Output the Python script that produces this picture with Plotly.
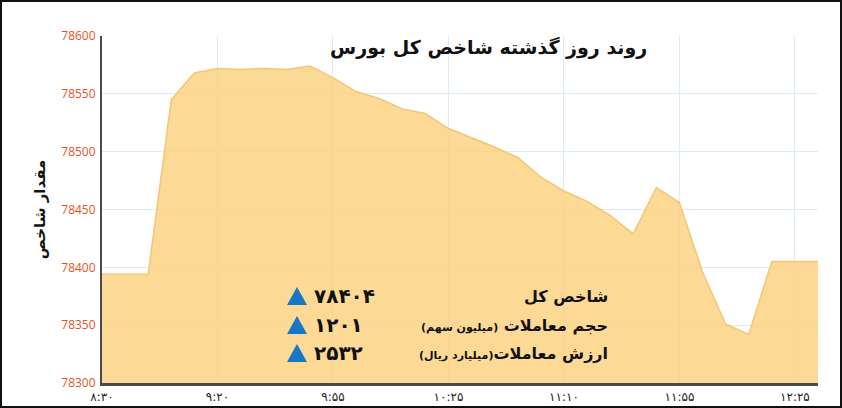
import plotly.graph_objects as go

# data
idx = list(range(32))
values = [78394, 78394, 78394, 78545, 78568, 78572, 78571, 78572, 78571, 78574,
          78564, 78552, 78546, 78537, 78533, 78520, 78512, 78504, 78495, 78478,
          78466, 78457, 78445, 78429, 78469, 78456, 78396, 78351, 78342, 78405,
          78405, 78405]
tick_pos = [0, 5, 10, 15, 20, 25, 30]
tick_labels = ["۸:۳۰", "۹:۲۰", "۹:۵۵", "۱۰:۲۵", "۱۱:۱۰", "۱۱:۵۵", "۱۲:۲۵"]
y_ticks = [78300, 78350, 78400, 78450, 78500, 78550, 78600]
y_tick_labels = [str(v) for v in y_ticks]
title = "روند روز گذشته شاخص کل بورس"
y_title = "مقدار شاخص"
row_labels = ["شاخص کل",
              "حجم معاملات <span style='font-size:11px'>(میلیون سهم)</span>",
              "ارزش معاملات<span style='font-size:11px'>(میلیارد ریال)</span>"]
row_values = ["۷۸۴۰۴", "۱۲۰۱", "۲۵۳۲"]

W, H = 842, 408
L, R, T, B = 102, 24, 36, 25
pw, ph = W - L - R, H - T - B

def px(x):
    return (x - L) / pw

def py(y):
    return (H - B - y) / ph

fig = go.Figure()
fig.add_trace(go.Scatter(
    x=idx, y=values, mode="lines",
    line=dict(color="#f6c57a", width=1.5),
    fill="tozeroy", fillcolor="rgba(251,210,131,0.85)",
    hoverinfo="skip", showlegend=False,
))

arab = "DejaVu Sans"
ann = []
shapes = []
ann.append(dict(x=px(488), y=py(47), xref="paper", yref="paper", text="<b>" + title + "</b>",
                showarrow=False, font=dict(family=arab, size=19, color="#111"),
                xanchor="center", yanchor="middle"))
rows_y = [296, 325, 353]
for i, yy in enumerate(rows_y):
    ann.append(dict(x=px(610), y=py(yy), xref="paper", yref="paper",
                    text="<b>" + row_labels[i] + "</b>", showarrow=False,
                    font=dict(family=arab, size=16, color="#111"),
                    xanchor="right", yanchor="middle"))
    ann.append(dict(x=px(312), y=py(yy), xref="paper", yref="paper",
                    text="<b>" + row_values[i] + "</b>", showarrow=False,
                    font=dict(family=arab, size=20, color="#111"),
                    xanchor="left", yanchor="middle"))
    # blue up-triangle marker
    x0, x1, xc = px(287), px(307), px(297)
    yb, yt = py(yy + 9), py(yy - 9)
    shapes.append(dict(type="path", xref="paper", yref="paper",
                       path=f"M {x0} {yb} L {x1} {yb} L {xc} {yt} Z",
                       fillcolor="#1577c6", line=dict(width=0), layer="above"))

shapes.append(dict(type="rect", xref="paper", yref="paper",
                   x0=px(1), x1=px(W - 1), y0=py(H - 1), y1=py(1),
                   line=dict(color="#111", width=2), fillcolor="rgba(0,0,0,0)", layer="above"))

fig.update_layout(
    width=W, height=H,
    margin=dict(l=L, r=R, t=T, b=B),
    paper_bgcolor="white", plot_bgcolor="white",
    annotations=ann,
    shapes=shapes,
    xaxis=dict(range=[0, 31], tickvals=tick_pos, ticktext=tick_labels,
               showgrid=True, gridcolor="#dcecf6", gridwidth=1, automargin=False,
               zeroline=False, showline=True, linecolor="#4a4a4a", linewidth=3,
               ticks="", tickfont=dict(family=arab, size=12, color="#222"),
               ticklabelstandoff=1),
    yaxis=dict(range=[78300, 78600], tickvals=y_ticks, ticktext=y_tick_labels,
               showgrid=True, gridcolor="#dcecf6", gridwidth=1, automargin=False,
               zeroline=False, showline=True, linecolor="#4a4a4a", linewidth=2,
               ticks="", tickfont=dict(family="Open Sans", size=12, color="#e8531f"),
               ticklabelstandoff=2,
               title=dict(text="<b>" + y_title + "</b>", font=dict(family=arab, size=15, color="#111"),
                          standoff=12)),
)
fig.write_html("out.html", config={"displayModeBar": False},
               post_script="document.body.style.margin='0';")
